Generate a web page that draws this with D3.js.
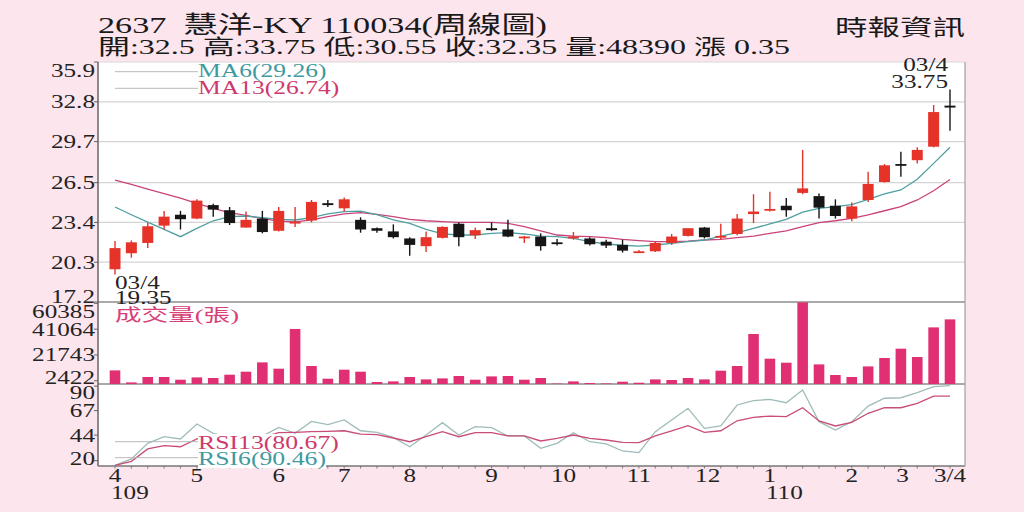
<!DOCTYPE html>
<html>
<head>
<meta charset="utf-8">
<script src="https://cdn.jsdelivr.net/npm/d3@7"></script>
<style>
  html, body { margin: 0; padding: 0; background: #fce5ed; }
  svg { display: block; }
</style>
</head>
<body>
<div id="chart"></div>
<script>
// ------------------------------------------------------
// Weekly data (109/03/04 .. 110/03/04)
const opens  = [19.75, 21.0, 21.8, 23.15, 24.0, 23.7, 24.75, 24.35, 23.0, 23.7, 22.75, 23.35, 23.55, 24.9, 24.5, 23.6, 22.95, 22.7, 22.15, 21.55, 22.2, 23.3, 22.4, 22.95, 22.85, 22.2, 22.3, 21.85, 22.25, 22.15, 21.9, 21.65, 21.1, 21.15, 21.8, 22.35, 23.0, 22.3, 22.5, 24.05, 24.4, 24.7, 25.7, 25.45, 24.7, 23.7, 25.15, 26.55, 27.95, 28.25, 29.3, 32.5]
const highs  = [21.95, 22.0, 23.35, 24.3, 24.3, 25.2, 24.85, 24.6, 24.25, 24.3, 24.6, 24.6, 25.15, 25.15, 25.35, 23.8, 23.0, 23.25, 22.25, 22.7, 23.1, 23.4, 23.0, 23.4, 23.6, 22.35, 22.55, 22.1, 22.65, 22.25, 22.05, 22.05, 21.25, 21.9, 22.5, 22.95, 23.05, 23.3, 24.05, 25.6, 25.8, 25.3, 29.05, 25.65, 25.2, 24.95, 27.35, 27.95, 28.9, 29.25, 32.55, 33.75]
const lows   = [19.35, 20.65, 21.4, 22.85, 22.85, 23.65, 23.85, 23.2, 23.0, 22.55, 22.7, 23.05, 23.4, 24.6, 24.25, 22.6, 22.6, 22.15, 20.8, 21.1, 22.15, 21.55, 22.1, 22.75, 22.25, 21.8, 21.2, 21.6, 22.05, 21.6, 21.4, 21.05, 21.05, 21.1, 21.65, 22.3, 22.15, 22.05, 22.4, 23.35, 24.25, 23.85, 25.6, 23.7, 23.7, 23.5, 25.0, 26.5, 26.95, 28.0, 29.25, 30.55]
const closes = [21.4, 21.85, 23.1, 23.85, 23.65, 25.1, 24.4, 23.35, 23.6, 22.65, 24.3, 23.45, 25.0, 24.75, 25.2, 22.85, 22.75, 22.25, 21.65, 22.25, 23.05, 22.25, 22.8, 22.8, 22.3, 22.3, 21.55, 21.8, 22.3, 21.7, 21.6, 21.2, 21.15, 21.8, 22.3, 22.95, 22.25, 22.35, 23.7, 24.25, 24.45, 24.35, 26.05, 24.55, 23.9, 24.65, 26.4, 27.85, 27.9, 29.05, 32.0, 32.35]
const volumes = [10190, 1200, 5240, 5240, 3220, 4940, 4490, 6970, 9210, 16180, 11460, 41200, 13480, 3970, 10710, 9210, 1500, 1950, 5240, 3450, 4190, 5990, 3220, 5690, 5990, 3220, 4490, 300, 1950, 750, 400, 1720, 970, 3450, 3000, 4490, 3450, 9960, 13480, 37450, 18950, 15950, 61120, 14680, 6740, 5240, 13180, 19470, 26440, 20220, 42390, 48390]
const ma6  = [24.6, 24.0, 23.43, 22.86, 22.29, 22.94, 23.53, 23.85, 23.9, 23.77, 23.64, 23.59, 23.77, 24.06, 24.24, 24.28, 24.0, 23.6, 23.33, 22.86, 22.5, 22.42, 22.42, 22.55, 22.6, 22.5, 22.34, 22.29, 22.16, 21.9, 21.72, 21.62, 21.56, 21.64, 21.77, 21.9, 22.03, 22.34, 22.6, 22.94, 23.28, 23.64, 24.21, 24.5, 24.63, 24.78, 25.2, 25.62, 25.93, 26.76, 28.0, 29.26]
const ma13 = [26.7, 26.36, 26.0, 25.64, 25.3, 24.89, 24.5, 24.16, 23.95, 23.7, 23.5, 23.45, 23.6, 23.85, 24.06, 24.16, 24.03, 23.85, 23.64, 23.53, 23.46, 23.41, 23.4, 23.4, 23.33, 23.07, 22.75, 22.42, 22.34, 22.29, 22.21, 22.08, 21.98, 21.9, 21.9, 21.95, 22.03, 22.08, 22.21, 22.34, 22.55, 22.75, 23.07, 23.38, 23.53, 23.72, 23.98, 24.31, 24.63, 25.15, 25.87, 26.74]
const rsi6  = [15.5, 21.6, 36.3, 42.5, 40.4, 54.4, 45.7, 42, 41, 43, 51.3, 45.7, 56.9, 53.8, 58.2, 48.1, 46.6, 41.9, 33.1, 44.1, 55.7, 44.1, 51.9, 51.0, 43.2, 43.2, 31.6, 36.3, 46.3, 37.8, 35.7, 29.1, 27.5, 47.2, 58.2, 69.2, 50.4, 52.6, 72.3, 76.3, 77.6, 74.4, 86.4, 56.6, 48.8, 56.6, 71.3, 78.6, 79.1, 83.8, 89.5, 90.46]
const rsi13 = [15.5, 19.4, 31.0, 34.1, 33.1, 40.4, 40.5, 40, 40.5, 42, 46.3, 46.6, 47.2, 47.5, 48.1, 45.0, 44.4, 41.3, 37.8, 42.5, 47.2, 42.5, 46.3, 46.3, 43.2, 43.2, 38.5, 41.0, 44.1, 41.0, 39.4, 37.2, 36.9, 43.2, 47.9, 52.8, 46.6, 48.1, 57.5, 60.7, 61.9, 61.3, 69.7, 57.3, 52.6, 56.0, 64.5, 69.7, 69.7, 73.9, 80.7, 80.67]

// Axis ticks
const priceTicks  = [35.9, 32.8, 29.7, 26.5, 23.4, 20.3, 17.2]
const volumeTicks = [60385, 41064, 21743, 2422]
const rsiTicks    = [90, 67, 44, 20]
const monthLabels = ['4', '5', '6', '7', '8', '9', '10', '11', '12', '1', '2', '3', '3/4']
const monthIndex  = [0, 5, 10, 14, 18, 23, 27.4, 32, 36.2, 40, 45, 48.1, 51]
const yearLabels  = ['109', '110']
const yearIndex   = [0, 40]

// Texts
const titleText = '2637\u00a0\u00a0慧洋-KY 110034(周線圖)'
const quoteText = '開:32.5 高:33.75 低:30.55 收:32.35 量:48390 漲 0.35'
const sourceText = '時報資訊'

// ------------------------------------------------------
// Layout
const width = 1024
const height = 512
const plotLeft = 98, plotRight = 965
const plotTop = 62, priceBottom = 302, volBottom = 384, rsiBottom = 466
const FONT = '"Liberation Serif", "Noto Sans CJK TC", serif'
const SX = 1.4   // the picture's text is wide

const red = '#e5332a'
const black = '#161616'

const n = closes.length
const x = d3.scaleLinear().domain([0, n - 1]).range([115, 950])
const yPrice = d3.scaleLinear().domain([17.2, 35.9]).range([priceBottom, plotTop])
const yVol = d3.scaleLinear().domain([0, 61400]).range([volBottom, priceBottom])
const yRsi = d3.scaleLinear().domain([15, 92]).range([rsiBottom, volBottom])

const svg = d3.select('#chart')
	.append('svg')
	.attr('width', width)
	.attr('height', height)

svg.append('rect')
	.attr('width', width)
	.attr('height', height)
	.attr('fill', '#fce5ed')

// white plot area
svg.append('rect')
	.attr('x', plotLeft).attr('y', plotTop)
	.attr('width', plotRight - plotLeft).attr('height', rsiBottom - plotTop)
	.attr('fill', '#fff')

// small text helper, stretched horizontally
function label(g, px, py, s, o = {}) {
	return g.append('text')
		.attr('transform', `translate(${px},${py}) scale(${o.sx || SX},1)`)
		.attr('text-anchor', o.anchor || 'start')
		.attr('font-size', o.size || 18)
		.attr('font-family', FONT)
		.attr('fill', o.fill || '#222')
		.style('white-space', 'pre')
		.text(s)
}

// ------------------------------------------------------
// Header
svg.append('text')
	.attr('x', plotLeft).attr('y', 33)
	.attr('font-size', 24).attr('font-family', FONT).attr('fill', '#1a1a1a')
	.attr('textLength', 449).attr('lengthAdjust', 'spacingAndGlyphs')
	.text(titleText)

svg.append('text')
	.attr('x', plotLeft).attr('y', 53.5)
	.attr('font-size', 21).attr('font-family', FONT).attr('fill', '#1a1a1a')
	.attr('textLength', 692).attr('lengthAdjust', 'spacingAndGlyphs')
	.text(quoteText)

svg.append('text')
	.attr('x', 835).attr('y', 35)
	.attr('font-size', 22).attr('font-family', FONT).attr('fill', '#1a1a1a')
	.attr('textLength', 130).attr('lengthAdjust', 'spacingAndGlyphs')
	.text(sourceText)

// ------------------------------------------------------
// Grid and frame
const grid = svg.append('g')

grid.selectAll('line.grid')
	.data(priceTicks.slice(1, -1))
	.enter()
	.append('line')
	.attr('x1', plotLeft).attr('x2', plotRight)
	.attr('y1', d => yPrice(d)).attr('y2', d => yPrice(d))
	.attr('stroke', '#d4d4d4')
	.attr('stroke-width', 1.2)

grid.append('line')
	.attr('x1', plotLeft).attr('x2', plotRight).attr('y1', plotTop).attr('y2', plotTop)
	.attr('stroke', '#d8d8d8')
grid.selectAll('line.sep')
	.data([priceBottom, volBottom])
	.enter()
	.append('line')
	.attr('x1', plotLeft).attr('x2', plotRight)
	.attr('y1', d => d).attr('y2', d => d)
	.attr('stroke', '#8c8c8c')
	.attr('stroke-width', 1.3)
grid.append('line')
	.attr('x1', plotLeft).attr('x2', plotRight).attr('y1', rsiBottom).attr('y2', rsiBottom)
	.attr('stroke', '#777').attr('stroke-width', 1.3)
grid.append('line')
	.attr('x1', plotRight).attr('x2', plotRight).attr('y1', plotTop).attr('y2', rsiBottom)
	.attr('stroke', '#a0a0a0').attr('stroke-width', 1.2)
grid.append('line')
	.attr('x1', plotLeft).attr('x2', plotLeft).attr('y1', plotTop).attr('y2', rsiBottom)
	.attr('stroke', '#666').attr('stroke-width', 1.5)

// ------------------------------------------------------
// Left axis labels
const axisG = svg.append('g')

function leftAxis(ticks, scale, lo, hi, fmt) {
	ticks.forEach(t => {
		const ty = scale(t)
		axisG.append('line')
			.attr('x1', plotLeft - 4).attr('x2', plotLeft)
			.attr('y1', ty).attr('y2', ty)
			.attr('stroke', '#666')
		const ly = Math.max(lo, Math.min(hi, ty))
		label(axisG, plotLeft - 3, ly + 6.5, fmt(t), { anchor: 'end', size: 18 })
	})
}
leftAxis(priceTicks, yPrice, 70, 296, d => d.toFixed(1))
leftAxis(volumeTicks, yVol, 311, 377, d => String(d))
leftAxis(rsiTicks, yRsi, 392, 458, d => String(d))

// ------------------------------------------------------
// Bottom axis
const xAxisG = svg.append('g')
xAxisG.selectAll('line')
	.data(d3.range(n))
	.enter()
	.append('line')
	.attr('x1', d => x(d)).attr('x2', d => x(d))
	.attr('y1', rsiBottom).attr('y2', rsiBottom + 2.5)
	.attr('stroke', '#777')

monthLabels.forEach((m, i) => {
	label(xAxisG, x(monthIndex[i]), 482, m, { anchor: 'middle', size: 18 })
})
yearLabels.forEach((yl, i) => {
	label(xAxisG, x(yearIndex[i]) - 4, 499, yl, { size: 18 })
})

// ------------------------------------------------------
// Moving averages
const maLine = arr => d3.line()
	.x((d, i) => x(i))
	.y(d => yPrice(d))(arr)

svg.append('path')
	.attr('d', maLine(ma13))
	.attr('fill', 'none')
	.attr('stroke', '#c8447a')
	.attr('stroke-width', 1.3)

svg.append('path')
	.attr('d', maLine(ma6))
	.attr('fill', 'none')
	.attr('stroke', '#4f9fa2')
	.attr('stroke-width', 1.3)

// ------------------------------------------------------
// Candles
const bodyW = 11
const candles = svg.append('g')
	.selectAll('g')
	.data(d3.range(n))
	.enter()
	.append('g')

const colorOf = i => closes[i] >= opens[i] ? red : black

candles.append('line')
	.attr('x1', i => x(i)).attr('x2', i => x(i))
	.attr('y1', i => yPrice(highs[i])).attr('y2', i => yPrice(lows[i]))
	.attr('stroke', colorOf)
	.attr('stroke-width', 1.4)

candles.append('rect')
	.attr('x', i => x(i) - bodyW / 2)
	.attr('width', bodyW)
	.attr('y', i => yPrice(Math.max(opens[i], closes[i])))
	.attr('height', i => Math.max(1.8, Math.abs(yPrice(opens[i]) - yPrice(closes[i]))))
	.attr('fill', colorOf)

// ------------------------------------------------------
// Volume bars
svg.append('g')
	.selectAll('rect')
	.data(volumes)
	.enter()
	.append('rect')
	.attr('x', (d, i) => x(i) - 5.3)
	.attr('width', 10.6)
	.attr('y', d => yVol(d))
	.attr('height', d => volBottom - yVol(d))
	.attr('fill', '#e02f72')

// ------------------------------------------------------
// RSI
const rsiLine = arr => d3.line()
	.x((d, i) => x(i))
	.y(d => yRsi(d))(arr)

svg.append('path')
	.attr('d', rsiLine(rsi6))
	.attr('fill', 'none')
	.attr('stroke', '#9fbcba')
	.attr('stroke-width', 1.3)

svg.append('path')
	.attr('d', rsiLine(rsi13))
	.attr('fill', 'none')
	.attr('stroke', '#c84d78')
	.attr('stroke-width', 1.3)

// ------------------------------------------------------
// Legends and notes
const legend = svg.append('g')

function legendItem(ly, lineY, s, color, size, sx, boxed) {
	legend.append('line')
		.attr('x1', 115).attr('x2', 198)
		.attr('y1', lineY).attr('y2', lineY)
		.attr('stroke', '#b8b8b8')
	const t = label(legend, 198, ly, s, { size: size, sx: sx, fill: color })
	if (boxed) {
		const bb = t.node().getBBox()
		legend.insert('rect', 'text')
			.attr('x', 198 + bb.x * sx).attr('y', ly + bb.y + 2)
			.attr('width', bb.width * sx).attr('height', bb.height - 3)
			.attr('fill', '#fff')
	}
}
legendItem(77, 71.7, `MA6(${ma6[n - 1]})`, '#3f9aa0', 18, 1.42, false)
legendItem(94, 88.3, `MA13(${ma13[n - 1]})`, '#cf3a6c', 18, 1.42, false)
legendItem(449, 441.7, `RSI13(${rsi13[n - 1]})`, '#cc3a6c', 19.5, 1.32, true)
legendItem(465, 457.7, `RSI6(${rsi6[n - 1]})`, '#3f9aa0', 19.5, 1.32, true)

label(legend, 115, 321, '成交量(張)', { size: 17.5, sx: 1.52, fill: '#d8407a' })

// first low and last high
label(legend, 115, 288.5, '03/4', { size: 18 })
label(legend, 115, 304, lows[0].toFixed(2), { size: 18 })
label(legend, 948, 71, '03/4', { size: 18, anchor: 'end' })
label(legend, 948, 87.5, highs[n - 1].toFixed(2), { size: 18, anchor: 'end' })
</script>
</body>
</html>
